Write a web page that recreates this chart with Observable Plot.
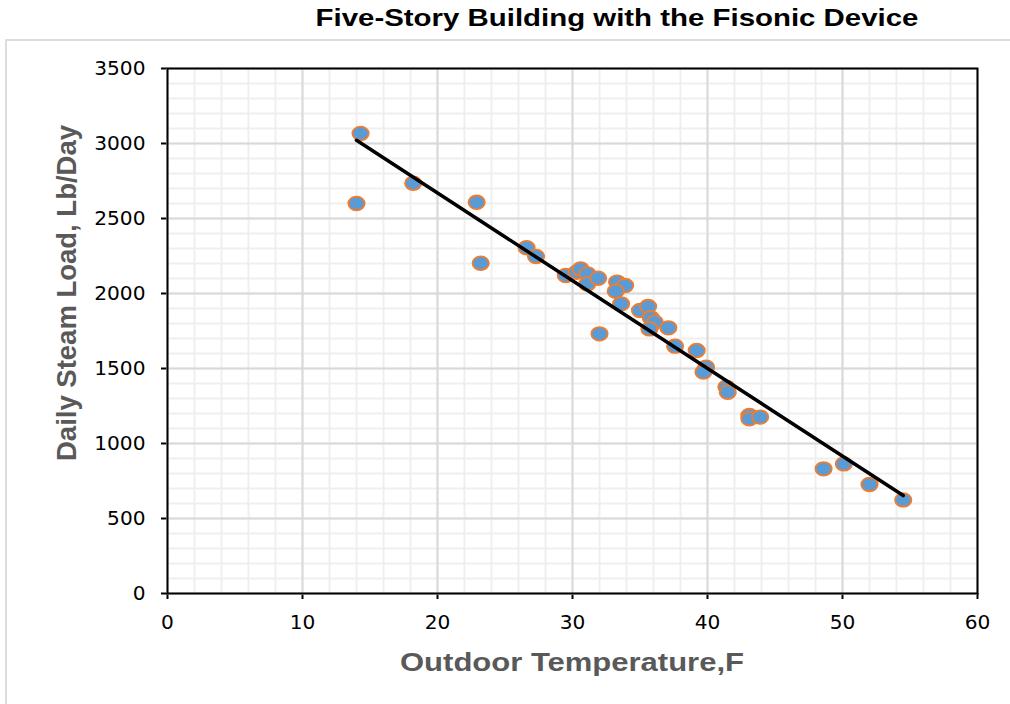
<!DOCTYPE html>
<html>
<head>
<meta charset="utf-8">
<script src="https://cdn.jsdelivr.net/npm/d3@7"></script>
<script src="https://cdn.jsdelivr.net/npm/@observablehq/plot@0.6"></script>
<style>
  html, body { margin: 0; padding: 0; background: #fff; }
  #wrap { position: relative; width: 1010px; height: 704px; overflow: hidden; font-family: "Liberation Sans", Arial, sans-serif; }
  #title { position: absolute; left: 617px; top: 4px; white-space: nowrap; font-weight: bold; font-size: 24.5px; color: #000;
           transform: translateX(-50%) scaleX(1.2); transform-origin: center; }
  #chart { position: absolute; left: 0; top: 40px; }
  #border { position: absolute; left: 5px; top: 39px; width: 1100px; height: 800px; border-top: 2px solid #dcdcdc; border-left: 2px solid #dcdcdc; pointer-events: none; }
</style>
</head>
<body>
<div id="wrap">
  <div id="title">Five-Story Building with the Fisonic Device</div>
  <div id="border"></div>
  <div id="chart"></div>
</div>
<script>
// Outdoor temperature (F) and daily steam load (Lb/Day)
const temperature = [14.3, 14.0, 18.2, 22.9, 23.2, 26.6, 27.3, 29.5, 30.3, 30.6, 31.1, 31.1, 31.9, 32.0,
  33.3, 33.9, 33.2, 33.6, 35.0, 35.6, 35.8, 36.1, 35.7, 37.1, 37.6, 39.2, 39.9, 39.7, 41.4, 41.5,
  43.1, 43.1, 43.9, 48.6, 50.1, 52.0, 54.5];
const steamLoad = [3067, 2600, 2735, 2608, 2202, 2305, 2247, 2120, 2142, 2164, 2131, 2064, 2102, 1731,
  2076, 2053, 2015, 1931, 1887, 1913, 1838, 1809, 1764, 1771, 1649, 1620, 1509, 1476, 1376, 1342,
  1187, 1165, 1176, 831, 864, 727, 624];

const xTicks = [0, 10, 20, 30, 40, 50, 60];
const yTicks = [0, 500, 1000, 1500, 2000, 2500, 3000, 3500];
const xMinor = d3.range(0, 61, 2);
const yMinor = d3.range(0, 3501, 100);

const xLabel = "Outdoor Temperature,F";
const yLabel = "Daily Steam Load, Lb/Day";

const data = temperature.map((t, i) => ({t, load: steamLoad[i]}));

// slightly wide ellipse marker
const ellipse = {
  draw(context, size) {
    const r = Math.sqrt(size / Math.PI);
    const rx = r * 1.2, ry = r, k = 0.5522847498;
    context.moveTo(rx, 0);
    context.bezierCurveTo(rx, k * ry, k * rx, ry, 0, ry);
    context.bezierCurveTo(-k * rx, ry, -rx, k * ry, -rx, 0);
    context.bezierCurveTo(-rx, -k * ry, -k * rx, -ry, 0, -ry);
    context.bezierCurveTo(k * rx, -ry, rx, -k * ry, rx, 0);
    context.closePath();
  }
};

const plot = Plot.plot({
  width: 1010,
  height: 664,
  marginLeft: 167,
  marginRight: 33,
  marginTop: 28,
  marginBottom: 111,
  style: {fontFamily: "'DejaVu Sans', sans-serif", fontSize: "19px", color: "#000", background: "transparent"},
  x: {domain: [0, 60], ticks: xTicks, tickFormat: "d", tickSize: 6, tickPadding: 16, label: null},
  y: {domain: [0, 3500], ticks: yTicks, tickFormat: "d", tickSize: 6, tickPadding: 16, label: null},
  marks: [
    Plot.ruleX(xMinor, {stroke: "#efefef", strokeWidth: 2}),
    Plot.ruleY(yMinor, {stroke: "#efefef", strokeWidth: 2}),
    Plot.ruleX(xTicks, {stroke: "#d9d9d9", strokeWidth: 2}),
    Plot.ruleY(yTicks, {stroke: "#d9d9d9", strokeWidth: 2}),
    Plot.dot(data, {x: "t", y: "load", symbol: ellipse, r: 6.8, fill: "#5B9BD5", stroke: "#ED7D31", strokeWidth: 1.8}),
    Plot.linearRegressionY(data, {x: "t", y: "load", stroke: "#000", strokeWidth: 3.5, ci: 0}),
    Plot.frame({stroke: "#000", strokeWidth: 2})
  ]
});

document.getElementById("chart").appendChild(plot);
const svg = d3.select(plot);

// thicken axis tick marks
svg.selectAll('g[aria-label*="axis"] line, g[aria-label*="axis"] path').attr("stroke-width", 2).attr("stroke", "#000");

// stretch tick labels horizontally like the reference
svg.selectAll('g[aria-label*="axis"] text').each(function () {
  const len = this.getComputedTextLength();
  this.setAttribute("textLength", (len * 1.06).toFixed(1));
  this.setAttribute("lengthAdjust", "spacingAndGlyphs");
  this.setAttribute("fill", "#000");
});

// axis titles
svg.append("text")
  .attr("x", 572).attr("y", 631)
  .attr("text-anchor", "middle")
  .attr("font-family", "'Liberation Sans', Arial, sans-serif")
  .attr("font-weight", "bold").attr("font-size", 25)
  .attr("fill", "#595959")
  .attr("textLength", 344).attr("lengthAdjust", "spacingAndGlyphs")
  .text(xLabel);

svg.append("text")
  .attr("transform", "translate(76,253) rotate(-90)")
  .attr("text-anchor", "middle")
  .attr("font-family", "'Liberation Sans', Arial, sans-serif")
  .attr("font-weight", "bold").attr("font-size", 27)
  .attr("fill", "#595959")
  .attr("textLength", 336).attr("lengthAdjust", "spacingAndGlyphs")
  .text(yLabel);
</script>
</body>
</html>
